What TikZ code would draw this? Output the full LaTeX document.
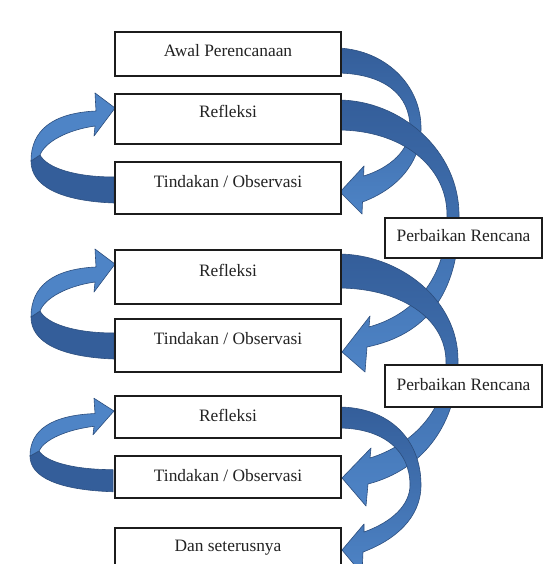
\documentclass[tikz,border=0pt]{standalone}
\usepackage{fontspec}
\setmainfont{Liberation Serif}
\definecolor{arrDark}{RGB}{52,94,154}
\definecolor{arrLight}{RGB}{78,132,198}
\definecolor{arrLine}{RGB}{44,78,126}
\definecolor{boxLine}{RGB}{28,28,28}
\definecolor{txt}{RGB}{35,35,35}
\tikzset{
  box/.style={draw=boxLine, line width=2pt, fill=white, minimum width=226pt,
    inner sep=0pt, anchor=north west, text=txt,
    font=\fontsize{17.4pt}{20pt}\selectfont},
  pbox/.style={box, minimum width=157pt},
  rarrow/.style={draw=arrLine, line width=0.6pt, top color=arrDark,
    bottom color=arrLight, line join=round},
  ldark/.style={draw=arrLine, line width=0.6pt, fill=arrDark, line join=round},
  llight/.style={draw=arrLine, line width=0.6pt, fill=arrLight, line join=round},
}
\newcommand{\leftloopshape}{%
  \path[ldark] (-1,95) .. controls (-55,93) and (-84,78) .. (-84,53)
    -- (-75,47) .. controls (-68,60) and (-40,69) .. (-1,69) -- cycle;
  \path[llight] (-84,53) .. controls (-84,22) and (-62,5) .. (-19,3)
    -- (-20,-15) -- (0,0) -- (-21,28) -- (-20,18)
    .. controls (-48,22) and (-70,34) .. (-75,47) -- cycle;
}
\begin{document}
\begin{tikzpicture}[x=1pt,y=-1pt]
\clip (0,0) rectangle (545,564);
\fill[white] (0,0) rectangle (545,564);

% right-hand arrows
\path[rarrow] (338,48) .. controls (385,50) and (422,85) .. (421,130)
  .. controls (420,165) and (395,190) .. (362.5,202) -- (362,214) -- (340,192)
  -- (364,166) -- (363.6,176) .. controls (390,168) and (410,150) .. (410,128)
  .. controls (410,95) and (385,74) .. (338,73) -- cycle;

\path[rarrow] (338,100) .. controls (400,100) and (459,150) .. (459,215)
  .. controls (460,295) and (425,335) .. (367,347) -- (365,372) -- (342,352)
  -- (370,316) -- (369,327) .. controls (412,315) and (448,280) .. (447,215)
  .. controls (447,165) and (400,130) .. (338,130) -- cycle;

\path[rarrow] (338,254) .. controls (400,254) and (458,300) .. (458,360)
  .. controls (458,425) and (422,470) .. (368,484) -- (366,506) -- (342,478)
  -- (371,448) -- (370,458) .. controls (412,445) and (447,410) .. (446,362)
  .. controls (446,318) and (400,288) .. (338,288) -- cycle;

\path[rarrow] (338,407) .. controls (390,407) and (421,440) .. (421,485)
  .. controls (421,518) and (395,540) .. (363,552) -- (362,574) -- (342,550)
  -- (364,524) -- (364,532) .. controls (392,522) and (410,505) .. (410,485)
  .. controls (410,452) and (385,428) .. (338,428) -- cycle;

% left-hand loops
\begin{scope}[shift={(115,108)}]\leftloopshape\end{scope}
\begin{scope}[shift={(115,264)}]\leftloopshape\end{scope}
\begin{scope}[shift={(114,411)}, yscale=0.85]\leftloopshape\end{scope}

% boxes
\node[box, text height=25pt, text depth=19pt] (awal) at (114,31) {Awal Perencanaan};
\node[box, text height=24pt, text depth=26pt] (ref1) at (114,93) {Refleksi};
\node[box, text height=25pt, text depth=27pt] (tin1) at (114,161) {Tindakan / Observasi};
\node[pbox, text height=23pt, text depth=17pt] (per1) at (384,217) {Perbaikan Rencana};
\node[box, text height=26pt, text depth=28pt] (ref2) at (114,249) {Refleksi};
\node[box, text height=25pt, text depth=28pt] (tin2) at (114,318) {Tindakan / Observasi};
\node[pbox, text height=25pt, text depth=17pt] (per2) at (384,364) {Perbaikan Rencana};
\node[box, text height=25pt, text depth=17pt] (ref3) at (114,395) {Refleksi};
\node[box, text height=25pt, text depth=17pt] (tin3) at (114,455) {Tindakan / Observasi};
\node[box, text height=23pt, text depth=25pt] (dan) at (114,527) {Dan seterusnya};
\end{tikzpicture}
\end{document}
